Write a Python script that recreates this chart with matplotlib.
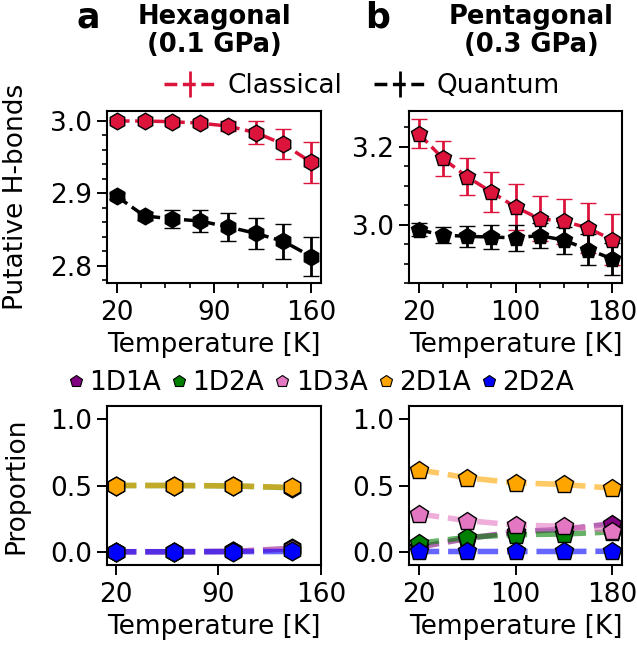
import matplotlib
matplotlib.use("Agg")
import matplotlib.pyplot as plt
from matplotlib.ticker import AutoMinorLocator
from matplotlib.lines import Line2D
import numpy as np

# ---------------- data ----------------
T_hex = [20, 40, 60, 80, 100, 120, 140, 160]
hex_classical = [3.000, 3.000, 2.999, 2.997, 2.993, 2.984, 2.968, 2.943]
hex_classical_err = [0.002, 0.002, 0.003, 0.004, 0.007, 0.016, 0.021, 0.028]
hex_quantum = [2.896, 2.869, 2.865, 2.862, 2.854, 2.845, 2.834, 2.813]
hex_quantum_err = [0.004, 0.006, 0.012, 0.015, 0.019, 0.021, 0.024, 0.027]

T_pen = [20, 40, 60, 80, 100, 120, 140, 160, 180]
pen_classical = [3.234, 3.170, 3.123, 3.084, 3.045, 3.015, 3.009, 2.991, 2.961]
pen_classical_err = [0.038, 0.044, 0.047, 0.051, 0.059, 0.058, 0.058, 0.064, 0.066]
pen_quantum = [2.987, 2.973, 2.970, 2.968, 2.966, 2.972, 2.960, 2.936, 2.912]
pen_quantum_err = [0.017, 0.021, 0.027, 0.030, 0.033, 0.032, 0.035, 0.040, 0.041]

categories = ["1D1A", "1D2A", "1D3A", "2D1A", "2D2A"]
cat_colors = ["purple", "green", "tab:pink", "orange", "blue"]

T_hex_prop = [20, 60, 100, 140]
hex_prop = {
    "1D1A": [0.0, 0.0, 0.003, 0.025],
    "1D2A": [0.5, 0.5, 0.497, 0.483],
    "1D3A": [0.0, 0.0, 0.002, 0.020],
    "2D1A": [0.5, 0.5, 0.497, 0.485],
    "2D2A": [0.0, 0.0, 0.001, 0.002],
}

T_pen_prop = [20, 60, 100, 140, 180]
pen_prop = {
    "1D1A": [0.035, 0.100, 0.150, 0.170, 0.212],
    "1D2A": [0.063, 0.109, 0.129, 0.134, 0.150],
    "1D3A": [0.285, 0.235, 0.202, 0.192, 0.159],
    "2D1A": [0.619, 0.558, 0.520, 0.508, 0.480],
    "2D2A": [0.002, 0.002, 0.002, 0.002, 0.004],
}

# ---------------- figure ----------------
W, H = 637, 649
fig = plt.figure(figsize=(W / 100, H / 100), dpi=100)
plt.rcParams['font.family'] = ['DejaVu Sans']

FS = 19

def box(l, t, r, b):
    return [l / W, 1 - b / H, (r - l) / W, (b - t) / H]

ax_a = fig.add_axes(box(107, 111, 321, 283))
ax_b = fig.add_axes(box(409, 111, 622, 283))
ax_c = fig.add_axes(box(107, 406, 321, 565))
ax_d = fig.add_axes(box(409, 406, 622, 565))

crimson = "#DC143C"
ekw = dict(capsize=5.5, elinewidth=2.0, capthick=2.0, lw=2.5, ls="--",
           markersize=12, markeredgecolor="black", markeredgewidth=1.0)

ax_a.errorbar(T_hex, hex_classical, yerr=hex_classical_err, color=crimson,
              marker="h", markerfacecolor=crimson, **ekw)
ax_a.errorbar(T_hex, hex_quantum, yerr=hex_quantum_err, color="black",
              marker="h", markerfacecolor="black", **ekw)
ax_b.errorbar(T_pen, pen_classical, yerr=pen_classical_err, color=crimson,
              marker="p", markerfacecolor=crimson, **ekw)
ax_b.errorbar(T_pen, pen_quantum, yerr=pen_quantum_err, color="black",
              marker="p", markerfacecolor="black", **ekw)

ax_a.set_xticks([20, 90, 160])
ax_a.set_yticks([2.8, 2.9, 3.0])
ax_a.set_ylim(2.7765, 3.0138)
ax_a.xaxis.set_minor_locator(AutoMinorLocator(4))
ax_a.yaxis.set_minor_locator(AutoMinorLocator(5))

ax_b.set_xticks([20, 100, 180])
ax_b.set_yticks([3.0, 3.2])
ax_b.set_ylim(2.850, 3.292)
ax_b.xaxis.set_minor_locator(AutoMinorLocator(4))
ax_b.yaxis.set_minor_locator(AutoMinorLocator(4))

for ax, T, data, mk in [(ax_c, T_hex_prop, hex_prop, "h"), (ax_d, T_pen_prop, pen_prop, "p")]:
    for cat, col in zip(categories, cat_colors):
        ax.plot(T, data[cat], ls="--", lw=4, color=col, alpha=0.6, zorder=2)
    for cat, col in zip(categories, cat_colors):
        ax.plot(T, data[cat], ls="none", marker=mk, markersize=13.5,
                markerfacecolor=col, markeredgecolor="black", markeredgewidth=1.0, zorder=3)
    ax.set_ylim(-0.1, 1.1)
    ax.set_yticks([0.0, 0.5, 1.0])

ax_c.set_xlim(14, 160)
ax_c.set_xticks([20, 90, 160])
ax_d.set_xticks([20, 100, 180])

for ax in [ax_a, ax_b, ax_c, ax_d]:
    ax.tick_params(labelsize=FS, width=1.4, length=7, pad=3.5)
    ax.tick_params(axis="x", pad=5.5)
    ax.tick_params(which="minor", width=1.2, length=3.5)
    ax.set_xlabel("Temperature [K]", fontsize=FS, labelpad=4)
    for s in ax.spines.values():
        s.set_linewidth(1.5)

ax_a.set_ylabel("Putative H-bonds", fontsize=FS)
ax_c.set_ylabel("Proportion", fontsize=FS)
ax_a.yaxis.set_label_coords((29 - 107) / 214, 0.5)
ax_c.yaxis.set_label_coords((29 - 107) / 214, 0.5)

# titles
fig.text(88 / W, 1 - 18 / H, "a", fontsize=25, fontweight="bold", ha="center", va="center")
fig.text(378 / W, 1 - 18 / H, "b", fontsize=25, fontweight="bold", ha="center", va="center")
for x, l1, l2 in [(214, "Hexagonal", "(0.1 GPa)"), (531, "Pentagonal", "(0.3 GPa)")]:
    fig.text(x / W, 1 - 17 / H, l1, fontsize=18.5, fontweight="bold", ha="center", va="center")
    fig.text(x / W, 1 - 45 / H, l2, fontsize=18.5, fontweight="bold", ha="center", va="center")

# legends
hc = ax_a.errorbar([], [], yerr=[], color=crimson, ls="--", lw=2.5, capsize=5.5,
                   elinewidth=2.0, capthick=2.0, label="Classical")
hq = ax_a.errorbar([], [], yerr=[], color="black", ls="--", lw=2.5, capsize=5.5,
                   elinewidth=2.0, capthick=2.0, label="Quantum")
fig.legend(handles=[hc, hq], labels=["Classical", "Quantum"], loc="center",
           bbox_to_anchor=(362 / W, 1 - 86 / H), ncol=2, frameon=False,
           fontsize=FS, handlelength=2.0, handletextpad=0.4, columnspacing=1.2,
           borderpad=0.1)

cat_handles = [Line2D([], [], ls="none", marker="p", markersize=9, markerfacecolor=c,
                      markeredgecolor="black", markeredgewidth=0.8) for c in cat_colors]
fig.legend(handles=cat_handles, labels=categories, loc="center",
           bbox_to_anchor=(321 / W, 1 - 383 / H), ncol=5, frameon=False,
           fontsize=FS, handlelength=0.6, handletextpad=0.2, columnspacing=0.4,
           borderpad=0.1)

fig.savefig("out.png", dpi=100)
